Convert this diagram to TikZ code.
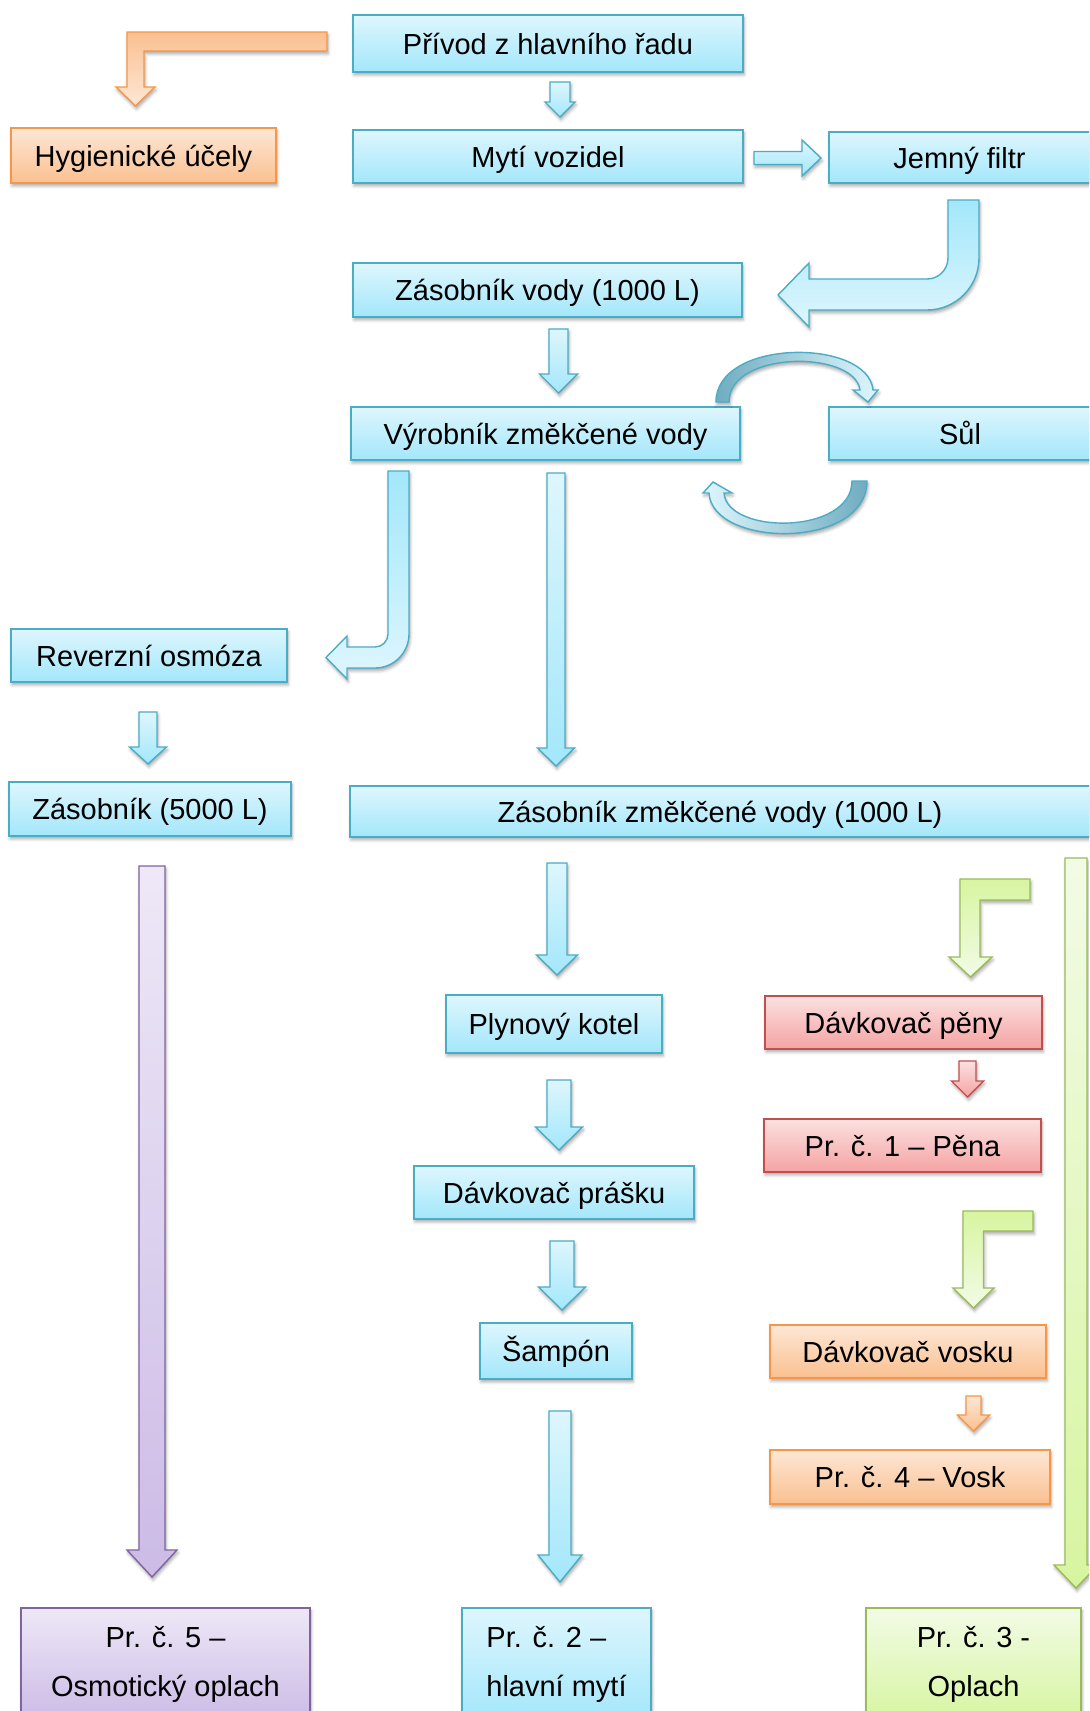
\documentclass[tikz,border=0pt]{standalone}
\usepackage{fontspec}
\setmainfont{Liberation Sans}
\usepackage{tikz}
\usetikzlibrary{shadows.blur}

\definecolor{bluebd}{RGB}{75,172,198}
\definecolor{bluetop}{RGB}{222,246,253}
\definecolor{bluebot}{RGB}{163,231,251}
\definecolor{orangebd}{RGB}{247,150,70}
\definecolor{orangetop}{RGB}{253,231,214}
\definecolor{orangebot}{RGB}{250,192,144}
\definecolor{redbd}{RGB}{192,80,77}
\definecolor{redtop}{RGB}{251,224,224}
\definecolor{redbot}{RGB}{245,163,163}
\definecolor{greenbd}{RGB}{155,187,89}
\definecolor{greentop}{RGB}{242,251,230}
\definecolor{greenbot}{RGB}{215,245,160}
\definecolor{purplebd}{RGB}{128,100,162}
\definecolor{purpletop}{RGB}{238,232,247}
\definecolor{purplebot}{RGB}{203,187,230}
\definecolor{darkteal}{RGB}{112,172,192}

\tikzset{
  softshadow/.style={blur shadow={shadow xshift=0.6pt, shadow yshift=-1.6pt, shadow blur radius=1.8pt, shadow opacity=35}},
  boxbase/.style={rectangle, inner sep=0pt, line width=0.8pt, softshadow,
    font=\fontsize{16.5pt}{20pt}\selectfont, text height=15.6pt, text depth=3.6pt},
  bluebox/.style={boxbase, draw=bluebd, top color=bluetop, bottom color=bluebot},
  orangebox/.style={boxbase, draw=orangebd, top color=orangetop, bottom color=orangebot},
  redbox/.style={boxbase, draw=redbd, top color=redtop, bottom color=redbot},
  greenbox/.style={boxbase, draw=greenbd, top color=greentop, bottom color=greenbot},
  purplebox/.style={boxbase, draw=purplebd, top color=purpletop, bottom color=purplebot},
  prbox/.style={align=center, text height=, text depth=, minimum height=2.25cm,
    font=\fontsize{16.5pt}{27.8pt}\selectfont},
  arrbase/.style={line width=0.8pt, line join=miter, softshadow},
  bluearr/.style={arrbase, draw=bluebd, top color=bluetop, bottom color=bluebot},
  bluearrup/.style={arrbase, draw=bluebd, top color=bluebot, bottom color=bluetop},
  orangearr/.style={arrbase, draw=orangebd, top color=orangetop, bottom color=orangebot},
  orangearrup/.style={arrbase, draw=orangebd, top color=orangebot, bottom color=orangetop},
  redarr/.style={arrbase, draw=redbd, top color=redtop, bottom color=redbot},
  greenarr/.style={arrbase, draw=greenbd, top color=greentop, bottom color=greenbot},
  greenarrup/.style={arrbase, draw=greenbd, top color=greenbot, bottom color=greentop},
  purplearr/.style={arrbase, draw=purplebd, top color=purpletop, bottom color=purplebot},
  curlleft/.style={arrbase, draw=bluebd, left color=darkteal, right color=bluetop},
  curlright/.style={arrbase, draw=bluebd, left color=bluetop, right color=darkteal},
}

% block arrow pointing down: style, x, top, head base, tip, half shaft, half head
\newcommand{\blkdown}[7]{%
  \path[#1] ({#2-#6},#3) -- ({#2+#6},#3) -- ({#2+#6},#4) -- ({#2+#7},#4)
    -- (#2,#5) -- ({#2-#7},#4) -- ({#2-#6},#4) -- cycle;}

\begin{document}
\begin{tikzpicture}[x=0.02cm, y=-0.02cm]
    \clip (0,0) rectangle (1089,1711);

    % upper part
    \node[bluebox, minimum width=7.8cm, minimum height=1.14cm] (privod) at (548,43.5) {Přívod z hlavního řadu};
    \node[orangebox, minimum width=5.3cm, minimum height=1.1cm] (hyg) at (143.5,155.5) {Hygienické účely};
    \node[bluebox, minimum width=7.8cm, minimum height=1.06cm] (myti) at (548,156.5) {Mytí vozidel};
    \node[bluebox, minimum width=5.22cm, minimum height=1.02cm] (filtr) at (959.5,157.5) {Jemný filtr};
    \node[bluebox, minimum width=7.78cm, minimum height=1.08cm] (zasvody) at (547.5,290) {Zásobník vody (1000 L)};
    \node[bluebox, minimum width=7.78cm, minimum height=1.06cm] (vyrobnik) at (545.5,433.5) {Výrobník změkčené vody};
    \node[bluebox, minimum width=5.24cm, minimum height=1.06cm] (sul) at (960,433.5) {Sůl};
    \node[bluebox, minimum width=5.52cm, minimum height=1.06cm] (reverz) at (149,655.5) {Reverzní osmóza};
    \node[bluebox, minimum width=5.64cm, minimum height=1.08cm] (zas5000) at (150,809) {Zásobník (5000 L)};
    \node[bluebox, minimum width=14.8cm, minimum height=1.02cm] (zasmek) at (720,811.5) {Zásobník změkčené vody (1000 L)};

    % lower part
    \node[bluebox, minimum width=4.32cm, minimum height=1.16cm] (kotel) at (554,1024) {Plynový kotel};
    \node[redbox, minimum width=5.54cm, minimum height=1.06cm] (penydav) at (903.5,1022.5) {Dávkovač pěny};
    \node[redbox, minimum width=5.54cm, minimum height=1.06cm] (pena) at (902.5,1145.5) {Pr. č. 1 – Pěna};
    \node[bluebox, minimum width=5.6cm, minimum height=1.06cm] (prasek) at (554,1192.5) {Dávkovač prášku};
    \node[bluebox, minimum width=3.04cm, minimum height=1.12cm] (sampon) at (556,1351) {Šampón};
    \node[orangebox, minimum width=5.52cm, minimum height=1.06cm] (voskdav) at (908,1351.5) {Dávkovač vosku};
    \node[orangebox, minimum width=5.6cm, minimum height=1.08cm] (vosk) at (910,1477) {Pr. č. 4 – Vosk};
    \node[purplebox, prbox, minimum width=5.78cm] (pr5) at (165.5,1664.3) {Pr. č. 5 –\\Osmotický oplach};
    \node[bluebox, prbox, align=left, minimum width=3.78cm] (pr2) at (556.5,1664.3) {Pr. č. 2 –\\hlavní mytí};
    \node[greenbox, prbox, minimum width=4.3cm] (pr3) at (973.5,1664.3) {Pr. č. 3 -\\Oplach};

    % block arrows
    \path[orangearrup] (327,32) -- (127,32) -- (127,87) -- (116,87) -- (135.5,106) -- (155,87)
        -- (144,87) -- (144,51) -- (327,51) -- cycle;
    \blkdown{bluearr}{560}{82}{102}{117}{10}{15}
    \path[bluearr] (754,151.5) -- (802,151.5) -- (802,140) -- (821,158) -- (802,176)
        -- (802,164.5) -- (754,164.5) -- cycle;
    \path[bluearrup] (948,200) -- (979,200) -- (979,258) arc (0:90:52) -- (809,310) -- (809,327)
        -- (778,295) -- (809,263) -- (809,279) -- (927,279) arc (90:0:21) -- cycle;
    \blkdown{bluearr}{558.5}{329}{374}{393}{9.5}{19}
    \path[curlleft] (716,402) .. controls (716,338) and (868,338) .. (873,390) -- (878,390) -- (868,402)
        -- (853,390) -- (860,390) .. controls (855,350) and (729,350) .. (729,402) -- cycle;
    \path[curlright] (867,481) .. controls (867,550) and (712,548) .. (709,493) -- (703,493) -- (713,482)
        -- (732,493) -- (724,493) .. controls (727,535) and (852,535) .. (852,481) -- cycle;
    \path[bluearrup] (388,471) -- (409,471) -- (409,634) arc (0:90:34) -- (347,668) -- (347,679)
        -- (326,657.5) -- (347,636) -- (347,647) -- (375,647) arc (90:0:13) -- cycle;
    \blkdown{bluearr}{556}{473}{748}{766}{9}{18.5}
    \blkdown{bluearr}{148}{712}{747}{764}{9}{18.5}
    \blkdown{purplearr}{152}{866}{1550}{1577}{13}{25}
    \blkdown{bluearr}{557}{863}{955}{975}{10}{20.5}
    \blkdown{bluearr}{559}{1080}{1127}{1150}{12}{23.5}
    \blkdown{bluearr}{562}{1241}{1287}{1310}{12}{23.5}
    \blkdown{bluearr}{560}{1411}{1555}{1582}{11}{22}
    \path[greenarrup] (1030,879) -- (960,879) -- (960,957) -- (949,957) -- (970.5,977) -- (992,957)
        -- (980,957) -- (980,900) -- (1030,900) -- cycle;
    \blkdown{redarr}{967.5}{1061}{1081}{1097}{8.5}{16}
    \path[greenarrup] (1033,1211) -- (963,1211) -- (963,1288) -- (953,1288) -- (973.5,1308) -- (994,1288)
        -- (983.5,1288) -- (983.5,1231) -- (1033,1231) -- cycle;
    \blkdown{orangearr}{973.5}{1396}{1415}{1431}{7.5}{16}
    \blkdown{greenarr}{1076}{858}{1565}{1588}{11}{22}
\end{tikzpicture}
\end{document}
